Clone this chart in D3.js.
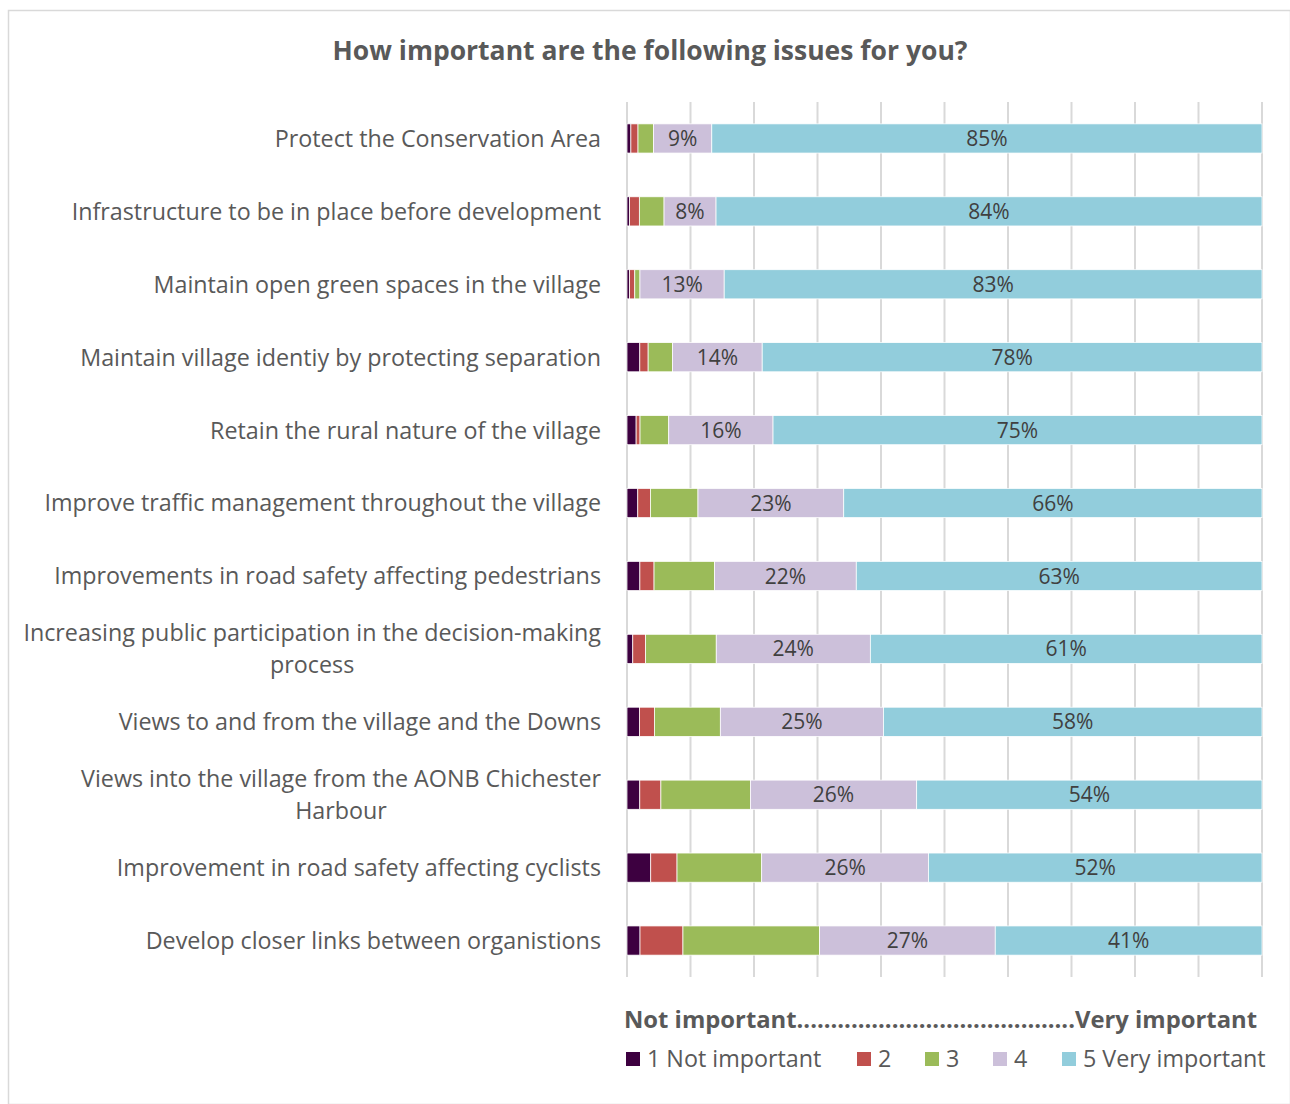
<!DOCTYPE html>
<html>
<head>
<meta charset="utf-8">
<script src="https://cdn.jsdelivr.net/npm/d3@7"></script>
<style>
  body { margin: 0; background: #fff; }
  svg text { font-family: "Open Sans", "Noto Sans", sans-serif; }
</style>
</head>
<body>
<div id="chart"></div>
<script>
// Survey categories, top to bottom ("\n" marks a wrapped line)
const categories = [
  "Protect the Conservation Area",
  "Infrastructure to be in place before development",
  "Maintain open green spaces in the village",
  "Maintain village identiy by protecting separation",
  "Retain the rural nature of the village",
  "Improve traffic management throughout the village",
  "Improvements in road safety affecting pedestrians",
  "Increasing public participation in the decision-making\nprocess",
  "Views to and from the village and the Downs",
  "Views into the village from the AONB Chichester\nHarbour",
  "Improvement in road safety affecting cyclists",
  "Develop closer links between organistions"
];

const seriesNames = ["1 Not important", "2", "3", "4", "5 Very important"];
const seriesColors = ["#3d0040", "#c0504d", "#9bbb59", "#ccc0da", "#92cddc"];

// percent of respondents per answer (1..5), same order as categories
const notImportant = [0.6, 0.4, 0.4, 2.0, 1.4, 1.7, 2.0, 0.9, 1.9, 2.0, 3.7, 2.0];
const score2       = [1.1, 1.5, 0.8, 1.3, 0.6, 2.0, 2.2, 2.0, 2.3, 3.3, 4.1, 6.6];
const score3       = [2.4, 3.8, 0.8, 3.8, 4.4, 7.5, 9.4, 11.0, 10.1, 14.0, 13.2, 21.0];
const score4       = [9, 8, 13, 14, 16, 23, 22, 24, 25, 26, 26, 27];
const veryImportant= [85, 84, 83, 78, 75, 66, 63, 61, 58, 54, 52, 41];

const xTicks = d3.range(0, 1.0001, 0.1);

const width = 1290, height = 1104;
const margin = { top: 102, right: 28, bottom: 127, left: 627 };

const svg = d3.select("#chart").append("svg")
  .attr("width", width)
  .attr("height", height);

// chart frame
svg.append("rect")
  .attr("x", 8.5).attr("y", 10.5)
  .attr("width", width - 8).attr("height", height - 10)
  .attr("fill", "#fff")
  .attr("stroke", "#d9d9d9")
  .attr("stroke-width", 1.5);

svg.append("text")
  .attr("x", 650).attr("y", 60)
  .attr("text-anchor", "middle")
  .attr("font-size", 26.5)
  .attr("font-weight", "bold")
  .attr("fill", "#595959")
  .text("How important are the following issues for you?");

// build rows & normalise to 100%
const series = [notImportant, score2, score3, score4, veryImportant];
const rows = categories.map((c, i) => {
  const vals = series.map(s => s[i]);
  const total = d3.sum(vals);
  let acc = 0;
  return {
    category: c,
    segs: vals.map((v, k) => {
      const seg = { key: k, value: v, x0: acc / total, x1: (acc + v) / total };
      acc += v;
      return seg;
    })
  };
});

const x = d3.scaleLinear().domain([0, 1]).range([margin.left, width - margin.right]);
const y = d3.scaleBand().domain(categories)
  .range([margin.top, height - margin.bottom])
  .paddingInner(0.6).paddingOuter(0.3);

// gridlines
svg.append("g")
  .selectAll("line")
  .data(xTicks)
  .join("line")
  .attr("x1", d => x(d)).attr("x2", d => x(d))
  .attr("y1", margin.top).attr("y2", height - margin.bottom)
  .attr("stroke", "#d9d9d9")
  .attr("stroke-width", 2);

// bars
const rowG = svg.append("g").selectAll("g")
  .data(rows)
  .join("g")
  .attr("transform", d => `translate(0,${y(d.category)})`);

rowG.selectAll("rect")
  .data(d => d.segs)
  .join("rect")
  .attr("x", d => x(d.x0))
  .attr("width", d => x(d.x1) - x(d.x0))
  .attr("height", y.bandwidth())
  .attr("fill", d => seriesColors[d.key])
  .attr("stroke", "#fff")
  .attr("stroke-width", 0.75);

// data labels only for 4 and 5
rowG.selectAll("text.val")
  .data(d => d.segs.filter(s => s.key >= 3))
  .join("text")
  .attr("class", "val")
  .attr("x", d => (x(d.x0) + x(d.x1)) / 2)
  .attr("y", y.bandwidth() / 2)
  .attr("dy", "0.36em")
  .attr("font-size", 21)
  .attr("text-anchor", "middle")
  .attr("fill", "#404040")
  .text(d => Math.round(d.value) + "%");

// category labels, right aligned block, wrapped lines centred on each other
const labelRight = 601;
const lineH = 32;
categories.forEach(c => {
  const lines = c.split("\n");
  const g = svg.append("g");
  const texts = lines.map((l, i) => g.append("text")
    .attr("font-size", 23.3)
    .attr("fill", "#595959")
    .attr("text-anchor", "middle")
    .text(l));
  const maxW = d3.max(texts, t => t.node().getComputedTextLength());
  const cy = y(c) + y.bandwidth() / 2;
  texts.forEach((t, i) => {
    t.attr("x", labelRight - maxW / 2)
      .attr("y", cy + (i - (lines.length - 1) / 2) * lineH)
      .attr("dy", "0.36em");
  });
});

// axis title under plot
svg.append("text")
  .attr("x", 624).attr("y", 1028)
  .attr("font-size", 23)
  .attr("font-weight", "bold")
  .attr("fill", "#595959")
  .attr("textLength", 633)
  .attr("lengthAdjust", "spacingAndGlyphs")
  .text("Not important." + ".".repeat(40) + "Very important");

// legend
const legendX = [626, 857, 925, 993, 1062];
const legend = svg.append("g").selectAll("g")
  .data(seriesNames)
  .join("g")
  .attr("transform", (d, i) => `translate(${legendX[i]},1059)`);
legend.append("rect")
  .attr("x", 0).attr("y", -7)
  .attr("width", 14).attr("height", 14)
  .attr("fill", (d, i) => seriesColors[i]);
legend.append("text")
  .attr("x", 21).attr("dy", "0.36em")
  .attr("font-size", 23.3)
  .attr("fill", "#595959")
  .text(d => d);
</script>
</body>
</html>
